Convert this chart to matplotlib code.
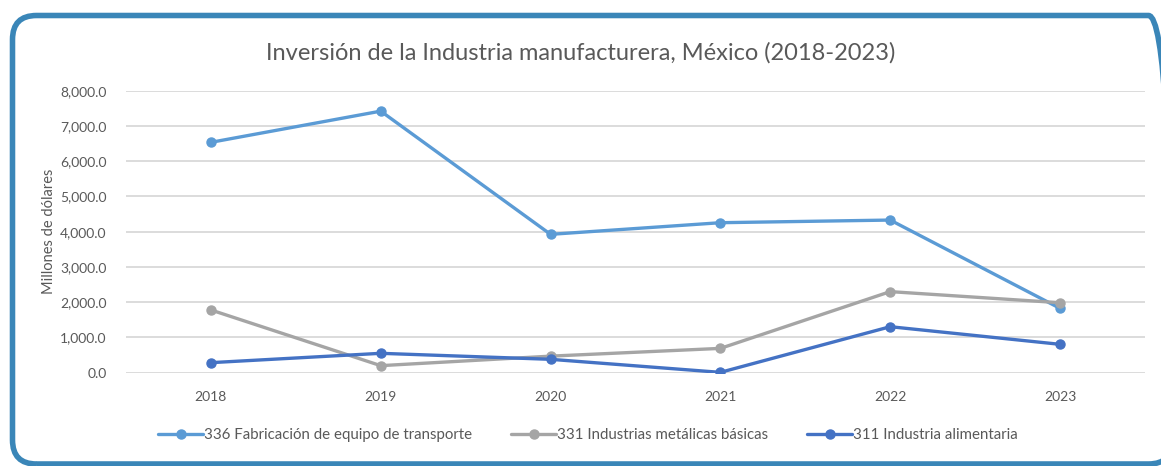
import matplotlib
matplotlib.use("Agg")
import matplotlib.pyplot as plt
from matplotlib.patches import FancyBboxPatch
from matplotlib.ticker import FuncFormatter
from matplotlib.transforms import IdentityTransform

plt.rcParams['font.family'] = ['Lato', 'DejaVu Sans']

years = ["2018", "2019", "2020", "2021", "2022", "2023"]
transporte = [6535, 7420, 3925, 4255, 4330, 1825]
metalicas = [1780, 200, 470, 690, 2300, 1985]
alimentaria = [285, 550, 380, 10, 1305, 805]

series = [
    ("336 Fabricación de equipo de transporte", transporte, "#5B9BD5"),
    ("331 Industrias metálicas básicas", metalicas, "#A5A5A5"),
    ("311 Industria alimentaria", alimentaria, "#4472C4"),
]

text_col = "#595959"

fig = plt.figure(figsize=(11.61, 4.66), dpi=100)
ax = fig.add_axes([0.1085, 0.2002, 0.8777, 0.6052])

x = range(len(years))
for name, vals, col in series:
    ax.plot(x, vals, color=col, lw=2.4, marker="o", ms=6.5, label=name,
            solid_capstyle="round")

ax.set_xlim(-0.5, len(years) - 0.5)
ax.set_ylim(0, 8000)
ax.set_yticks(range(0, 8001, 1000))
ax.yaxis.set_major_formatter(FuncFormatter(lambda v, p: f"{v:,.1f}"))
ax.set_xticks(list(x))
ax.set_xticklabels(years)
ax.tick_params(length=0, labelsize=10, colors=text_col)
ax.tick_params(axis="x", pad=13)
ax.tick_params(axis="y", pad=14)
ax.grid(axis="y", color="#D9D9D9", lw=1.3)
ax.set_axisbelow(True)
for s in ax.spines.values():
    s.set_visible(False)
ax.set_ylabel("Millones de dólares", fontsize=10.5, color=text_col, labelpad=3)

fig.text(0.5, 1 - 53 / 466, "Inversión de la Industria manufacturera, México (2018-2023)",
         ha="center", va="center", fontsize=17, color=text_col)

fig.legend(loc="center", bbox_to_anchor=(588 / 1161, 1 - 435 / 466), ncol=3,
           frameon=False, fontsize=10.8, handlelength=3.0, handletextpad=0.05,
           columnspacing=2.6, labelcolor=text_col)

# rounded blue frame, right side runs off the picture
frame = FancyBboxPatch((12.5, 2), 1160, 448.5, boxstyle="round,pad=0,rounding_size=24",
                       transform=IdentityTransform(), fill=False, ec="#3A86B8", lw=4.0,
                       clip_on=False)
fig.patches.append(frame)

fig.savefig("out.png", dpi=100)
